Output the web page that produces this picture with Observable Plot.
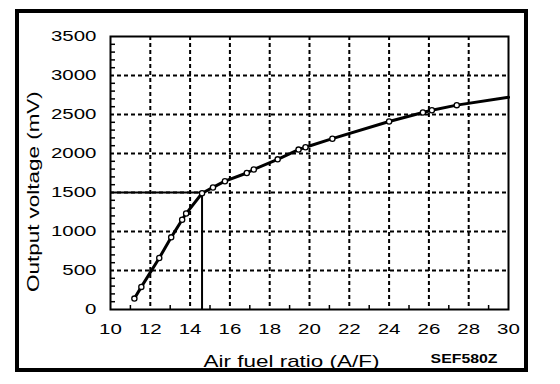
<!DOCTYPE html>
<html><head><meta charset="utf-8">
<script src="https://cdn.jsdelivr.net/npm/d3@7"></script>
<script src="https://cdn.jsdelivr.net/npm/@observablehq/plot@0.6"></script>
<style>
html,body{margin:0;padding:0;background:#fff;}
#wrap{position:relative;width:560px;height:384px;overflow:hidden;}
#border{position:absolute;left:15px;top:9px;width:513px;height:363px;border:4px solid #000;box-sizing:border-box;pointer-events:none;}
</style></head><body>
<div id="wrap"><div id="border"></div></div>
<script>
// Measured points (air fuel ratio, output voltage mV)
const afr = [11.2, 11.55, 12.45, 13.05, 13.6, 13.8, 14.6, 15.15, 15.75, 16.85, 17.2, 18.4, 19.45, 19.8, 21.15, 24.0, 25.7, 26.15, 27.4];
const mv  = [140, 290, 660, 925, 1150, 1230, 1490, 1565, 1645, 1750, 1795, 1925, 2050, 2080, 2190, 2410, 2525, 2555, 2620];
// Curve continues to the right edge without a marker
const curveEndAfr = [30];
const curveEndMv = [2720];
// Stoichiometric reference
const refAfr = [14.6];
const refMv = [1500];

const xTicks = [10, 12, 14, 16, 18, 20, 22, 24, 26, 28, 30];
const yTicks = [0, 500, 1000, 1500, 2000, 2500, 3000, 3500];
const xGrid = [12, 14, 16, 18, 20, 22, 24, 26, 28];
const yGrid = [500, 1000, 1500, 2000, 2500, 3000];
const xMinor = [11, 13, 15, 17, 19, 21, 23, 25, 27, 29];
const yMinor = d3.range(100, 3500, 100).filter(v => v % 500 !== 0);

const xLabel = "Air fuel ratio (A/F)";
const yLabel = "Output voltage (mV)";
const code = "SEF580Z";

const points = afr.map((a, i) => ({afr: a, mv: mv[i]}));
const curve = points.concat(curveEndAfr.map((a, i) => ({afr: a, mv: curveEndMv[i]})));

const chart = Plot.plot({
  width: 560,
  height: 384,
  marginLeft: 110,
  marginRight: 52,
  marginTop: 36,
  marginBottom: 75,
  style: {fontFamily: "'Liberation Sans', Arial, sans-serif", fontSize: "15px", background: "white", color: "black", overflow: "visible"},
  x: {domain: [10, 30], axis: null},
  y: {domain: [0, 3500], axis: null},
  marks: [
    Plot.gridX(xGrid, {stroke: "black", strokeOpacity: 1, strokeWidth: 2, strokeDasharray: "4,3"}),
    Plot.gridY(yGrid, {stroke: "black", strokeOpacity: 1, strokeWidth: 2, strokeDasharray: "4,3"}),
    Plot.axisY(yMinor, {tickSize: -5, fill: "none", strokeWidth: 1.5}),
    Plot.axisX(xMinor, {tickSize: -4, fill: "none", strokeWidth: 1.5}),
    Plot.axisY(yTicks, {tickSize: 0, tickPadding: 14, label: null, fontSize: 15.5, tickFormat: d3.format("d")}),
    Plot.axisX(xTicks, {tickSize: 0, tickPadding: 13, label: null, fontSize: 15.5, tickFormat: d3.format("d")}),
    Plot.ruleY(refMv, {x1: 10, x2: refAfr[0], stroke: "black", strokeWidth: 2}),
    Plot.ruleX(refAfr, {y1: 0, y2: refMv[0], stroke: "black", strokeWidth: 2}),
    Plot.frame({stroke: "black", strokeWidth: 2}),
    Plot.line(curve, {x: "afr", y: "mv", stroke: "black", strokeWidth: 3}),
    Plot.dot(points, {x: "afr", y: "mv", r: 2.6, fill: "white", stroke: "black", strokeWidth: 1.3}),
    Plot.text([xLabel], {frameAnchor: "bottom", lineAnchor: "bottom", dx: -18, dy: 57, fontSize: 17}),
    Plot.text([yLabel], {frameAnchor: "left", rotate: -90, textAnchor: "start", lineAnchor: "bottom", dx: -72, dy: 119, fontSize: 17}),
    Plot.text([code], {frameAnchor: "bottom-right", textAnchor: "end", lineAnchor: "bottom", dx: -11, dy: 53, fontSize: 12, fontWeight: "bold"})
  ]
});
const wrap = document.getElementById("wrap");
wrap.insertBefore(chart, wrap.firstChild);
// Widen lettering to match the reference's extended typeface
chart.querySelectorAll("text").forEach(t => {
  const w = t.getComputedTextLength();
  if (w > 0) {
    t.setAttribute("textLength", (w * 1.32).toFixed(1));
    t.setAttribute("lengthAdjust", "spacingAndGlyphs");
  }
});
</script>
</body></html>
